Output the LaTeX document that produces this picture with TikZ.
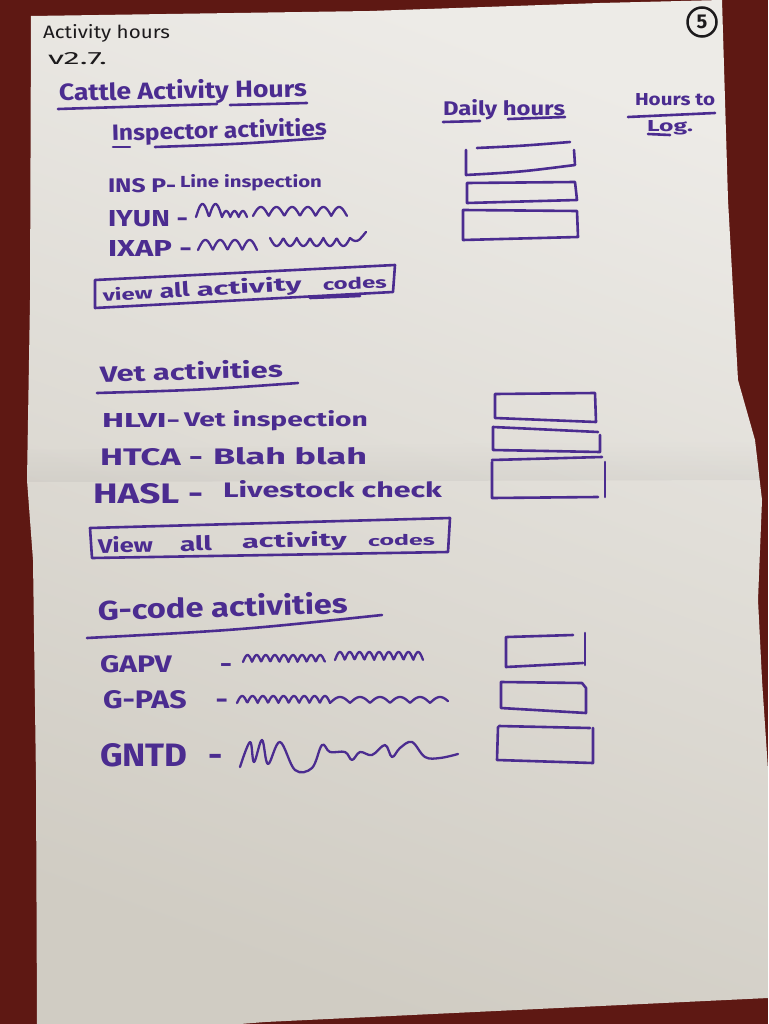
\documentclass[tikz,border=0pt]{standalone}
\usepackage{fontspec}
\setmainfont{Fira Sans}
\definecolor{carpet}{HTML}{5E1813}
\definecolor{paperA}{HTML}{EDEBE7}
\definecolor{paperB}{HTML}{D0CCC3}
\definecolor{ink}{HTML}{4B2C90}
\definecolor{blk}{HTML}{1C1A1C}
% hand-lettered word: width, height above baseline, text
\newcommand\hw[3]{\resizebox{#1pt}{#2pt}{#3}}

\begin{document}
\begin{tikzpicture}[x=1pt,y=-1pt,
  pen/.style={draw=ink, line width=2.6pt, line cap=round, line join=round},
  scrib/.style={draw=ink, line width=2.3pt, line cap=round, line join=round},
  hand/.style={inner sep=0pt, outer sep=0pt, anchor=base west, text=ink, font=\bfseries},
  handblk/.style={hand, text=blk, font=\mdseries}]
\useasboundingbox (0,0) rectangle (768,1024);

% carpet and the sheet of paper
\fill[carpet] (0,0) rectangle (768,1024);
\shade[top color=paperA, bottom color=paperB, shading angle=-20]
  (31,16) -- (370,11) -- (600,3) -- (722,0) -- (728,200) -- (738,380) -- (755,440)
  -- (762,500) -- (758,600) -- (762,680) -- (768,770) -- (768,998) -- (265,1022)
  -- (240,1024) -- (37,1024) -- (36,780) -- (33,560) -- (27,480) -- (30,300) -- cycle;
% faint crease across the sheet
\shade[top color=paperA, bottom color=black, opacity=0.04]
  (28,450) -- (752,440) -- (762,480) -- (27,482) -- cycle;

% header in black pen
\node[handblk] (title) at (43,39) {\hw{127}{14}{Activity hours}};
\node[handblk] (ver) at (48,65) {\hw{59}{12}{v2.7.}};
\node[draw=blk, line width=2.5pt, circle, minimum size=29pt, inner sep=0pt, text=blk,
      font=\bfseries\fontsize{20}{20}\selectfont] (page) at (702,22) {5};

% headings
\node[hand, rotate=1] (cattle) at (59,101) {\hw{248}{19}{Cattle Activity Hours}};
\draw[pen] (58,109) -- (217,104);
\draw[pen] (230,105) -- (307,103);
\node[hand, rotate=1.5] (inspector) at (112,141) {\hw{215}{18}{Inspector activities}};
\draw[pen] (113,147) -- (130,147);
\draw[pen] (155,147) .. controls (240,144) .. (323,138);
\node[hand] (daily) at (443,116) {\hw{122}{16}{Daily hours}};
\draw[pen] (443,122) -- (480,121);
\draw[pen] (508,119) -- (565,117);
\node[hand] (hoursto) at (635,106) {\hw{80}{12}{Hours to}};
\draw[pen] (628,117) -- (715,113);
\node[hand] (log) at (647,132) {\hw{46}{11}{Log.}};
\draw[pen] (648,134) -- (670,135);

% inspector activities
\node[hand] (inspA) at (108,193) {\hw{68}{14}{INS P-}};
\node[hand] (inspAd) at (180,188) {\hw{142}{13}{Line inspection}};
\node[hand] (inspB) at (108,226) {\hw{80}{16}{IYUN -}};
\draw[scrib] plot[domain=196:222, samples=40] (\x, {217 - 13*abs(sin((\x-196)*13.85))});
\draw[scrib] plot[domain=222:247, samples=40] (\x, {217 - 6*abs(sin((\x-222)*21.6))});
\draw[scrib] plot[domain=253:347, samples=120] (\x, {216 - 9*abs(sin((\x-253)*11.5))});
\node[hand] (inspC) at (108,256) {\hw{84}{16}{IXAP -}};
\draw[scrib] plot[domain=198:257, samples=80] (\x, {250 - 10*abs(sin((\x-198)*12.2))});
\draw[scrib] plot[domain=270:350, samples=100] (\x, {238 + 8*abs(sin((\x-270)*13.5))});
\draw[scrib] (350,238) .. controls (358,246) and (362,236) .. (366,232);

% inspector hour boxes
\draw[pen] (477,148) .. controls (520,146) .. (570,142);
\draw[pen] (466,150) -- (466,175) .. controls (520,172) .. (575,165) -- (574,150);
\draw[pen] (467,183) -- (575,182) -- (577,200) -- (467,203) -- cycle;
\draw[pen] (463,210) -- (577,211) -- (578,237) -- (463,240) -- cycle;

% view all codes (inspector)
\draw[pen] (95,280) -- (395,265) -- (393,292) -- (95,308) -- cycle;
\node[hand, rotate=3] (v1a) at (103,301) {\hw{50}{13}{view}};
\node[hand, rotate=3] (v1b) at (160,298) {\hw{30}{15}{all}};
\node[hand, rotate=3] (v1c) at (197,296) {\hw{105}{15}{activity}};
\node[hand, rotate=2] (v1d) at (323,290) {\hw{64}{12}{codes}};
\draw[pen] (310,298) -- (360,296);

% vet activities
\node[hand, rotate=1.5] (vet) at (100,382) {\hw{183}{18}{Vet activities}};
\draw[pen] (97,393) .. controls (200,390) .. (298,383);
\node[hand] (vetA) at (102,427) {\hw{78}{14}{HLVI-}};
\node[hand] (vetAd) at (184,426) {\hw{184}{16}{Vet inspection}};
\node[hand] (vetB) at (100,465) {\hw{103}{17}{HTCA -}};
\node[hand] (vetBd) at (213,464) {\hw{154}{17}{Blah blah}};
\node[hand] (vetC) at (93,503) {\hw{110}{20}{HASL -}};
\node[hand] (vetCd) at (223,497) {\hw{219}{17}{Livestock check}};

% vet hour boxes
\draw[pen] (495,394) -- (595,393) -- (596,422) -- (495,418) -- cycle;
\draw[pen] (493,427) -- (598,432);
\draw[pen] (600,435) -- (600,452) -- (493,450) -- (493,427);
\draw[pen] (492,460) -- (602,457);
\draw[pen] (605,462) -- (605,497);
\draw[pen] (492,462) -- (492,498) -- (598,497);

% view all codes (vet)
\draw[pen] (90,528) -- (450,518) -- (448,552) -- (92,558) -- cycle;
\node[hand, rotate=1] (v2a) at (98,553) {\hw{55}{16}{View}};
\node[hand, rotate=1] (v2b) at (180,551) {\hw{32}{15}{all}};
\node[hand, rotate=1] (v2c) at (242,548) {\hw{105}{15}{activity}};
\node[hand, rotate=1] (v2d) at (368,546) {\hw{67}{11}{codes}};

% G-code activities
\node[hand, rotate=1.5] (gcode) at (98,620) {\hw{250}{22}{G-code activities}};
\draw[pen] (87,638) .. controls (240,630) .. (382,615);
\node[hand] (gA) at (100,672) {\hw{132}{17}{GAPV\hspace{1.6em}-}};
\draw[scrib] plot[domain=243:325, samples=120] (\x, {662 - 7*abs(sin((\x-243)*19.8))});
\draw[scrib] plot[domain=335:423, samples=120] (\x, {660 - 8*abs(sin((\x-335)*18.4))});
\node[hand] (gB) at (103,708) {\hw{125}{18}{G-PAS\hspace{0.95em}-}};
\draw[scrib] plot[domain=237:330, samples=140] (\x, {703 - 7*abs(sin((\x-237)*17.4))});
\draw[scrib] plot[domain=330:448, samples=120] (\x, {703 - 6*abs(sin((\x-330)*9))});
\node[hand] (gC) at (100,766) {\hw{123}{23}{GNTD\hspace{0.6em}-}};
\draw[scrib] plot[smooth, tension=0.6] coordinates {(240,767) (250,742) (254,762) (262,740)
  (268,764) (280,742) (295,770) (312,768) (322,745) (330,752) (345,752) (352,760)
  (360,752) (372,755) (385,745) (392,757) (400,748) (412,742) (425,757) (440,758) (458,754)};

% G-code hour boxes
\draw[pen] (507,637) -- (573,635);
\draw[pen] (585,633) -- (585,665);
\draw[pen] (506,637) -- (506,667) -- (583,663);
\draw[pen] (501,682) -- (582,683) -- (586,688) -- (586,713) -- (501,708) -- cycle;
\draw[pen] (499,726) -- (590,728);
\draw[pen] (593,728) -- (593,763) -- (497,760) -- (498,727);
\end{tikzpicture}
\end{document}
